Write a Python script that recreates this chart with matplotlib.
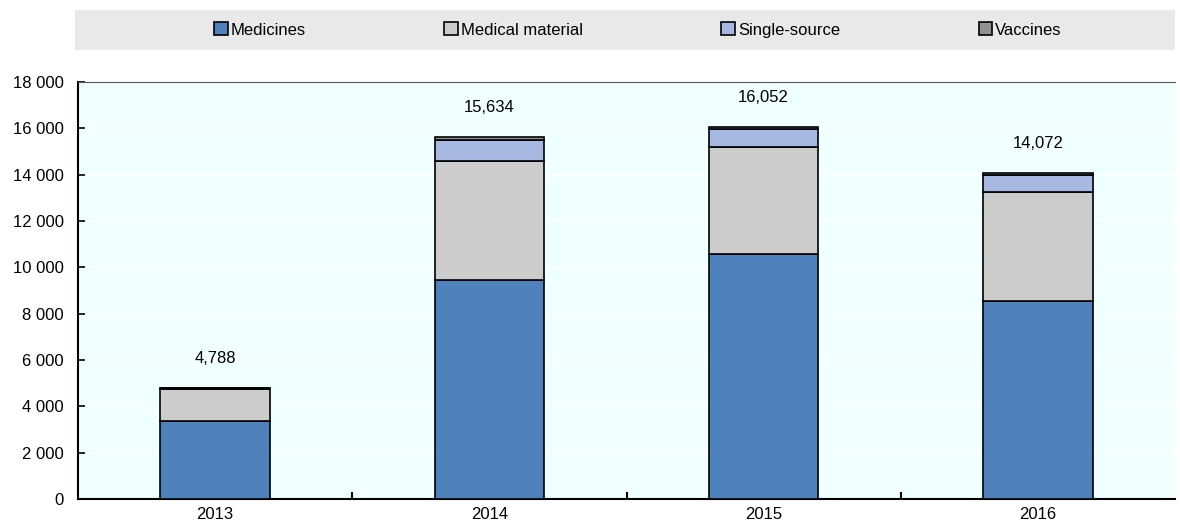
import numpy as np
import matplotlib.pyplot as plt
from matplotlib.patches import Rectangle

plt.rcParams['font.family'] = ['Liberation Sans', 'DejaVu Sans']

years = ['2013', '2014', '2015', '2016']
medicines = [3350, 9470, 10590, 8560]
medical_material = [1400, 5130, 4620, 4710]
single_source = [20, 910, 740, 730]
vaccines = [18, 124, 102, 72]
totals = [4788, 15634, 16052, 14072]

series = [
    ('Medicines', medicines, '#4F81BD'),
    ('Medical material', medical_material, '#CCCCCC'),
    ('Single-source', single_source, '#A7B9E3'),
    ('Vaccines', vaccines, '#929292'),
]

fig = plt.figure(figsize=(11.8, 5.27), dpi=100)
ax = fig.add_axes([78/1180, 1 - 499/527, 1097/1180, 417/527])
ax.set_facecolor('#F0FFFF')

x = np.arange(len(years))
bottom = np.zeros(len(years))
handles = []
for name, vals, col in series:
    b = ax.bar(x, vals, width=0.4, bottom=bottom, color=col, edgecolor='black',
               linewidth=1.2, label=name, zorder=3)
    handles.append(b)
    bottom += np.array(vals)

# totals above bars
for xi, t in zip(x, totals):
    ax.text(xi, t + 950, f'{t:,}', ha='center', va='bottom', fontsize=12)

ax.set_xlim(-0.5, len(years) - 0.5)
ax.set_ylim(0, 18000)
ax.set_yticks(np.arange(0, 18001, 2000))
ax.set_yticklabels([f'{v:,}'.replace(',', ' ') for v in range(0, 18001, 2000)], fontsize=12)
ax.set_xticks(x)
ax.set_xticklabels(years, fontsize=12)
ax.set_xticks(np.arange(0.5, len(years) - 1, 1), minor=True)
ax.tick_params(axis='x', which='major', length=0, pad=6)
ax.tick_params(axis='x', which='minor', length=5, direction='in', width=1.5)
ax.tick_params(axis='y', direction='in', length=5, width=1.2, pad=10)
ax.grid(axis='y', color='white', linewidth=1.2, zorder=0)
ax.spines['right'].set_visible(False)
ax.spines['top'].set_color('#555555')
ax.spines['left'].set_linewidth(1.5)
ax.spines['bottom'].set_linewidth(1.5)

# legend band
fig.patches.append(Rectangle((75/1180, 1 - 50/527), 1100/1180, 40/527,
                             transform=fig.transFigure, facecolor='#E9E9E9',
                             edgecolor='none', zorder=0))
fig.legend(handles=handles, loc='center', bbox_to_anchor=(638/1180, 1 - 30/527),
           ncol=4, frameon=False, fontsize=12, handlelength=0.8, handleheight=0.8,
           handletextpad=0.2, columnspacing=8.3)

fig.savefig('out.png', dpi=100)
